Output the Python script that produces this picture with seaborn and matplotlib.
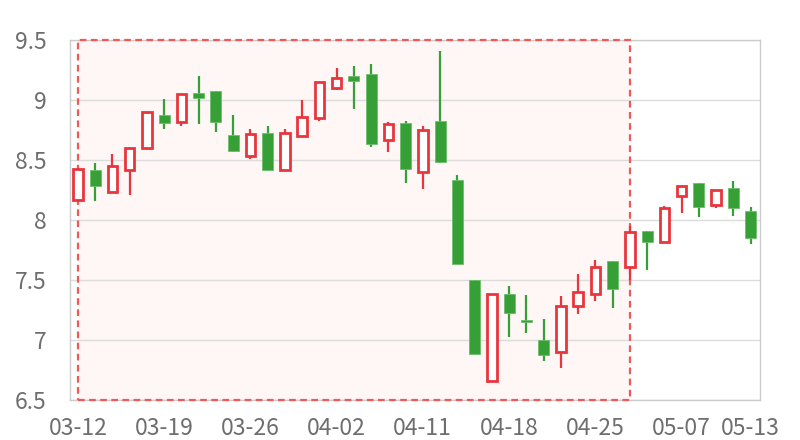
# Candlestick chart of daily prices, with a highlighted range (markArea style)
import matplotlib
matplotlib.use("Agg")
import matplotlib.pyplot as plt
from matplotlib.patches import Rectangle
import seaborn as sns
import numpy as np

dates = ["03-12", "03-13", "03-14", "03-15", "03-16", "03-19", "03-20", "03-21",
         "03-22", "03-23", "03-26", "03-27", "03-28", "03-29", "03-30", "04-02",
         "04-03", "04-04", "04-09", "04-10", "04-11", "04-12", "04-13", "04-16",
         "04-17", "04-18", "04-19", "04-20", "04-23", "04-24", "04-25", "04-26",
         "04-27", "05-02", "05-03", "05-07", "05-08", "05-09", "05-10", "05-13"]
opens = [8.17, 8.42, 8.24, 8.42, 8.60, 8.88, 8.82, 9.06, 9.08, 8.71,
         8.54, 8.73, 8.42, 8.70, 8.85, 9.10, 9.20, 9.22, 8.67, 8.81,
         8.40, 8.83, 8.34, 7.50, 6.66, 7.39, 7.17, 7.00, 6.90, 7.29,
         7.39, 7.66, 7.61, 7.91, 7.82, 8.20, 8.31, 8.13, 8.27, 8.08]
closes = [8.43, 8.29, 8.45, 8.60, 8.90, 8.81, 9.05, 9.02, 8.82, 8.58,
          8.72, 8.42, 8.73, 8.86, 9.15, 9.19, 9.16, 8.64, 8.80, 8.43,
          8.75, 8.49, 7.64, 6.89, 7.39, 7.23, 7.15, 6.88, 7.29, 7.40,
          7.61, 7.43, 7.90, 7.82, 8.10, 8.29, 8.11, 8.25, 8.10, 7.85]
lows = [8.17, 8.16, 8.24, 8.21, 8.60, 8.76, 8.79, 8.80, 8.74, 8.57,
        8.51, 8.41, 8.42, 8.70, 8.83, 9.09, 8.93, 8.61, 8.57, 8.31,
        8.26, 8.48, 7.64, 6.89, 6.66, 7.03, 7.06, 6.83, 6.77, 7.22,
        7.33, 7.27, 7.50, 7.59, 7.82, 8.06, 8.03, 8.10, 8.04, 7.80]
highs = [8.44, 8.48, 8.55, 8.60, 8.90, 9.01, 9.05, 9.20, 9.08, 8.88,
         8.76, 8.79, 8.76, 9.00, 9.15, 9.27, 9.29, 9.30, 8.82, 8.83,
         8.79, 9.41, 8.38, 7.50, 7.39, 7.45, 7.38, 7.18, 7.37, 7.55,
         7.67, 7.66, 7.95, 7.91, 8.12, 8.29, 8.31, 8.25, 8.33, 8.11]

area_start = "03-12"
area_end = "04-27"
y_ticks = [6.5, 7, 7.5, 8, 8.5, 9, 9.5]

up_color = "#e8363c"
down_color = "#36a036"
text_color = "#6e6e6e"

sns.set_theme(style="white")
plt.rcParams["font.family"] = ["Noto Sans CJK SC", "DejaVu Sans"]

fig = plt.figure(figsize=(8, 4.4), dpi=100)
ax = fig.add_axes([0.088, 0.0902, 0.862, 0.8182])

x = np.arange(len(dates))
opens = np.array(opens)
closes = np.array(closes)
up = closes >= opens
colors = [up_color if u else down_color for u in up]

# highlighted range
i0, i1 = dates.index(area_start), dates.index(area_end)
ax.add_patch(Rectangle((i0, 6.5), i1 - i0, 3.0, facecolor="#fff6f6",
                       edgecolor="none", zorder=0))
ax.add_patch(Rectangle((i0, 6.5), i1 - i0, 3.0, facecolor="none",
                       edgecolor="#ec5a5a", linewidth=1.6,
                       linestyle=(0, (3, 2)), zorder=1.5, clip_on=False))

# wicks
ax.vlines(x, lows, highs, colors=colors, linewidth=1.6, zorder=2)

# bodies
bottoms = np.minimum(opens, closes)
heights = np.maximum(np.abs(closes - opens), 0.012)
ax.bar(x[up], heights[up], bottom=bottoms[up], width=0.55,
       facecolor="white", edgecolor=up_color, linewidth=2, zorder=3)
ax.bar(x[~up], heights[~up], bottom=bottoms[~up], width=0.64,
       facecolor=down_color, edgecolor="#6cbf6c", linewidth=0.6, zorder=3)

ax.set_xlim(-0.43, len(dates) - 0.45)
ax.set_ylim(6.5, 9.5)
ax.set_yticks(y_ticks)
ax.set_yticklabels([f"{v:g}" for v in y_ticks])
tick_idx = list(range(0, len(dates), 5)) + [len(dates) - 1]
ax.set_xticks(tick_idx)
ax.set_xticklabels([dates[i] for i in tick_idx])

ax.grid(axis="y", color="#dcdcdc", linewidth=1)
ax.set_axisbelow(True)
for s in ax.spines.values():
    s.set_color("#cccccc")
    s.set_linewidth(1)
    s.set_zorder(1)
ax.tick_params(axis="both", length=0, labelsize=16.5, colors=text_color)
ax.tick_params(axis="y", pad=17)
ax.tick_params(axis="x", pad=12)

fig.savefig("out.png", dpi=100)
